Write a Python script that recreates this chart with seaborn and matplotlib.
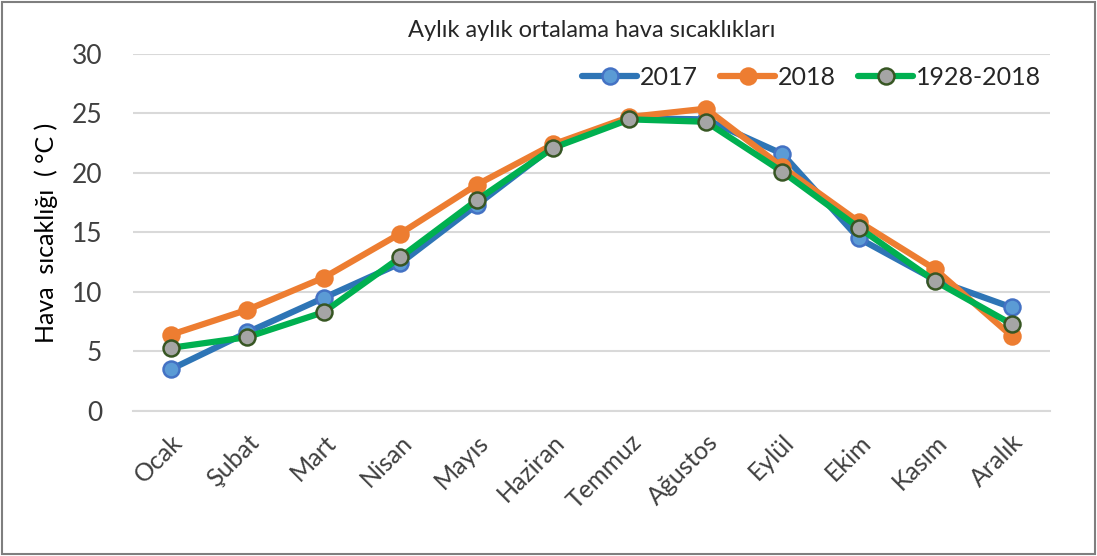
import pandas as pd
import seaborn as sns
import matplotlib.pyplot as plt
from matplotlib.patches import Rectangle

months = ['Ocak', 'Şubat', 'Mart', 'Nisan', 'Mayıs', 'Haziran',
          'Temmuz', 'Ağustos', 'Eylül', 'Ekim', 'Kasım', 'Aralık']
t2017 = [3.5, 6.6, 9.5, 12.4, 17.3, 22.2, 24.6, 24.5, 21.6, 14.5, 11.0, 8.7]
t2018 = [6.4, 8.5, 11.2, 14.9, 19.0, 22.4, 24.7, 25.4, 20.5, 15.9, 11.9, 6.3]
t_avg = [5.3, 6.2, 8.3, 12.9, 17.7, 22.1, 24.5, 24.3, 20.1, 15.4, 10.9, 7.3]

series = ['2017', '2018', '1928-2018']
# line colour, marker face, marker edge
styles = {
    '2017': ('#2E75B6', '#5B9BD5', '#4472C4'),
    '2018': ('#ED7D31', '#ED7D31', '#ED7D31'),
    '1928-2018': ('#00B050', '#A5A5A5', '#375623'),
}

df = pd.DataFrame({'ay': months * 3,
                   'sicaklik': t2017 + t2018 + t_avg,
                   'seri': [s for s in series for _ in months]})

sns.set_style('white')
plt.rcParams['font.family'] = ['Lato', 'DejaVu Sans']

fig = plt.figure(figsize=(10.97, 5.56), dpi=100)
ax = fig.add_axes([0.121, 0.261, 0.836, 0.642])

for s in series:
    lc, fc, ec = styles[s]
    sns.lineplot(data=df[df['seri'] == s], x='ay', y='sicaklik', ax=ax,
                 color=lc, linewidth=4.5, marker='o', markersize=11.5,
                 markerfacecolor=fc, markeredgecolor=ec, markeredgewidth=1.8,
                 label=s, sort=False)

ax.set_xlim(-0.5, len(months) - 0.5)
ax.set_ylim(0, 30)
ax.set_yticks(range(0, 31, 5))
ax.grid(axis='y', color='#D9D9D9', linewidth=1.5)
ax.set_axisbelow(True)
for sp in ['top', 'right', 'left']:
    ax.spines[sp].set_visible(False)
ax.spines['bottom'].set_color('#D9D9D9')
ax.spines['bottom'].set_linewidth(1.5)

ax.set_xticks(range(len(months)))
ax.set_xticklabels(months, rotation=45, ha='right', rotation_mode='anchor',
                   fontsize=18, color='#404040')
ax.tick_params(axis='x', length=0, pad=14)
ax.set_xticks([i - 0.5 for i in range(len(months) + 1)], minor=True)
ax.tick_params(axis='x', which='minor', length=8, color='#D9D9D9', width=1.5)
ax.tick_params(axis='y', length=0, labelsize=19, labelcolor='#404040', pad=22)

ax.set_xlabel('')
ax.set_ylabel('Hava  sıcaklığı  ( °C )', fontsize=18, color='#000000', labelpad=10)
ax.set_title('Aylık aylık ortalama hava sıcaklıkları', fontsize=17,
             color='#262626', pad=12)

leg = ax.legend(loc='upper right', ncol=3, frameon=False, fontsize=18,
                bbox_to_anchor=(1.015, 1.03), handlelength=2.2,
                handletextpad=0.1, columnspacing=0.9)
for t in leg.get_texts():
    t.set_color('#262626')

fig.patches.append(Rectangle((0.002, 0.003), 0.996, 0.994, transform=fig.transFigure,
                             fill=False, edgecolor='#7F7F7F', linewidth=1.5))

fig.savefig('out.png', dpi=100)
